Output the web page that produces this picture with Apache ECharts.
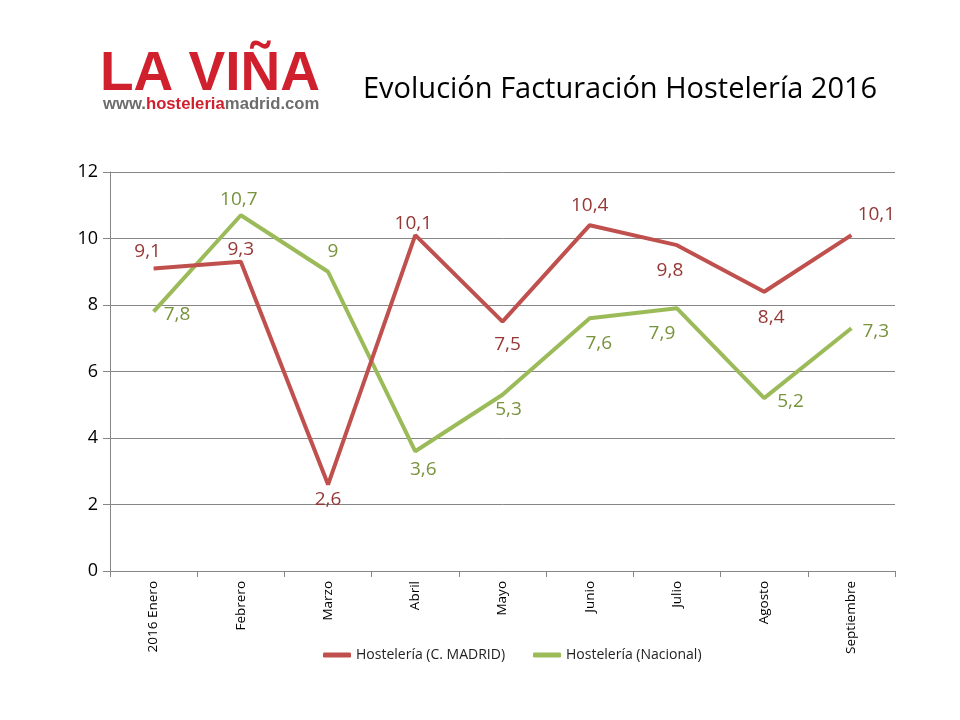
<!DOCTYPE html>
<html><head><meta charset="utf-8">
<script src="https://cdn.jsdelivr.net/npm/echarts@6/dist/echarts.min.js"></script>
<style>html,body{margin:0;padding:0;background:#fff}#c{width:960px;height:720px}</style>
</head><body><div id="c"></div>
<script>
const categories = ['2016 Enero','Febrero','Marzo','Abril','Mayo','Junio','Julio','Agosto','Septiembre'];
const madrid = [9.1, 9.3, 2.6, 10.1, 7.5, 10.4, 9.8, 8.4, 10.1];
const nacional = [7.8, 10.7, 9, 3.6, 5.3, 7.6, 7.9, 5.2, 7.3];
const madridPos = ['top','top','bottom','top','bottom','top','bottom','bottom','top'];
const nacionalPos = ['right','top','top','bottom','bottom','bottom','bottom','right','right'];
const madridOff = [[-6,-2],[0,2],[0,0],[-2,3],[5,8],[0,-5],[-7,11],[7,11],[25,-6]];
const nacionalOff = [[5,3],[-2,-1],[5,-6],[8,4],[6,0],[9,11],[-15,11],[8,3],[6,3]];
const yTicks = [0,2,4,6,8,10,12];

function fmt(v){return String(v).replace('.',',');}
function mk(vals,pos,off,color){
  return vals.map((v,i)=>({value:v,label:{show:true,position:pos[i],offset:off[i],color:color,fontSize:19,fontFamily:'Open Sans',formatter:p=>fmt(p.value)}}));
}
const chart = echarts.init(document.getElementById('c'),null,{renderer:'canvas'});
chart.setOption({
  backgroundColor:'#fff',
  animation:false,
  grid:{left:110,right:65,top:172,bottom:149},
  title:{text:'Evolución Facturación Hostelería 2016',left:358,top:70,textStyle:{fontFamily:'Open Sans',fontWeight:'normal',fontSize:29,color:'#000'}},
  graphic:[
    {type:'text',left:100,top:47,style:{text:'LA VIÑA',font:'900 55px "Liberation Sans", Arial',fill:'#D0202E'}},
    {type:'text',left:103,top:96,style:{text:'{g|www.}{r|hosteleria}{g|madrid.com}',rich:{g:{font:'bold 16.7px "Liberation Sans"',fill:'#6d6d6d'},r:{font:'bold 16.7px "Liberation Sans"',fill:'#D0202E'}}}}
  ],
  legend:{top:643,left:318,itemWidth:28,itemHeight:5,itemGap:28,icon:'roundRect',
    textStyle:{fontFamily:'Open Sans',fontSize:14,color:'#222'},
    data:['Hostelería (C. MADRID)','Hostelería (Nacional)']},
  xAxis:{type:'category',data:categories,boundaryGap:true,
    axisLine:{lineStyle:{color:'#868686'}},
    axisTick:{show:true,length:6,lineStyle:{color:'#868686'}},
    axisLabel:{rotate:90,fontSize:13.5,color:'#000',fontFamily:'Open Sans',margin:10}},
  yAxis:{type:'value',min:0,max:12,interval:2,
    axisLine:{show:true,lineStyle:{color:'#868686'}},
    axisTick:{show:true,length:7,lineStyle:{color:'#868686'}},
    axisLabel:{fontSize:18,color:'#000',fontFamily:'Open Sans',margin:12,formatter:v=>yTicks.includes(v)?String(v):''},
    splitLine:{lineStyle:{color:'#868686',width:1}}},
  series:[
    {name:'Hostelería (C. MADRID)',type:'line',data:mk(madrid,madridPos,madridOff,'#953735'),showSymbol:true,symbol:'circle',symbolSize:0.1,
      lineStyle:{color:'#C0504D',width:4},itemStyle:{color:'#C0504D'},z:3},
    {name:'Hostelería (Nacional)',type:'line',data:mk(nacional,nacionalPos,nacionalOff,'#77933C'),showSymbol:true,symbol:'circle',symbolSize:0.1,
      lineStyle:{color:'#9BBB59',width:4},itemStyle:{color:'#9BBB59'},z:2}
  ]
});
</script></body></html>
